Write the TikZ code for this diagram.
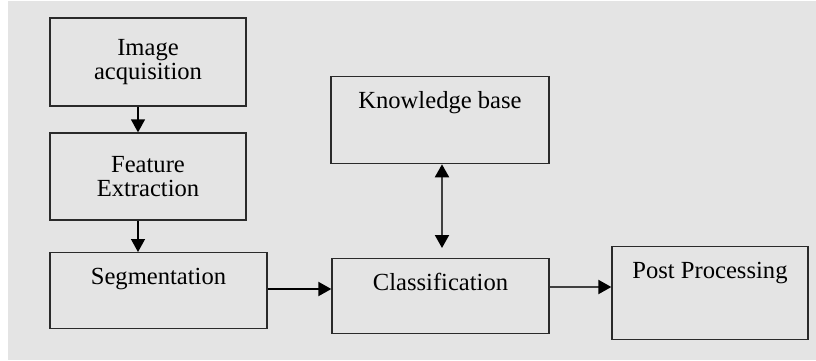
\documentclass[tikz,border=0pt]{standalone}
\usepackage{fontspec}
\setmainfont{Liberation Serif}
\usetikzlibrary{arrows.meta}

\definecolor{bggray}{HTML}{E4E4E4}
\definecolor{edge}{HTML}{2A2A2A}

\tikzset{
  stage/.style={draw=edge, line width=0.65pt, inner sep=0pt, align=center,
    font=\fontsize{12.3}{13}\selectfont},
  oneline/.style={stage, anchor=north, text height=16pt},
  tip/.style={Triangle[length=6.5pt,width=7pt,color=black]},
  flow/.style={line width=1pt, draw=black!75, -{Triangle[length=6.5pt,width=7pt,color=black]}},
}

\begin{document}
\begin{tikzpicture}[x=0.5pt,y=-0.5pt]
\useasboundingbox (0,0) rectangle (816,360);
\fill [bggray] (8,1) rectangle (816,360);

% left column
\node [stage, minimum width=98pt, minimum height=44pt] (acq) at (148,62) {Image\\[-1pt]acquisition};
\node [stage, minimum width=98pt, minimum height=43.5pt] (feat) at (148,176.5) {Feature\\[-1pt]Extraction};
\node [oneline, minimum width=108.5pt, text depth=22pt] (seg) at (158.5,252) {Segmentation};

% middle and right
\node [oneline, minimum width=109pt, text depth=27.5pt] (kb) at (440,76) {Knowledge base};
\node [oneline, minimum width=108.5pt, text depth=21.5pt] (cls) at (440.5,258) {Classification};
\node [oneline, minimum width=98pt, text depth=30.5pt] (post) at (710,246) {Post Processing};

\draw [flow, line width=0.7pt, draw=black] (acq.south -| 138,0) -- (feat.north -| 138,0);
\draw [flow, line width=0.7pt, draw=black] (feat.south -| 138,0) -- (seg.north -| 138,0);
\draw [flow, draw=black] (seg.east |- 0,289) -- (cls.west |- 0,289);
\draw [flow] (cls.east |- 0,287) -- (post.west |- 0,287);
\draw [flow, {Triangle[length=6.5pt,width=7pt,color=black]}-{Triangle[length=6.5pt,width=7pt,color=black]}] (kb.south -| 442,0) -- ([yshift=5pt]cls.north -| 442,0);
\end{tikzpicture}
\end{document}
